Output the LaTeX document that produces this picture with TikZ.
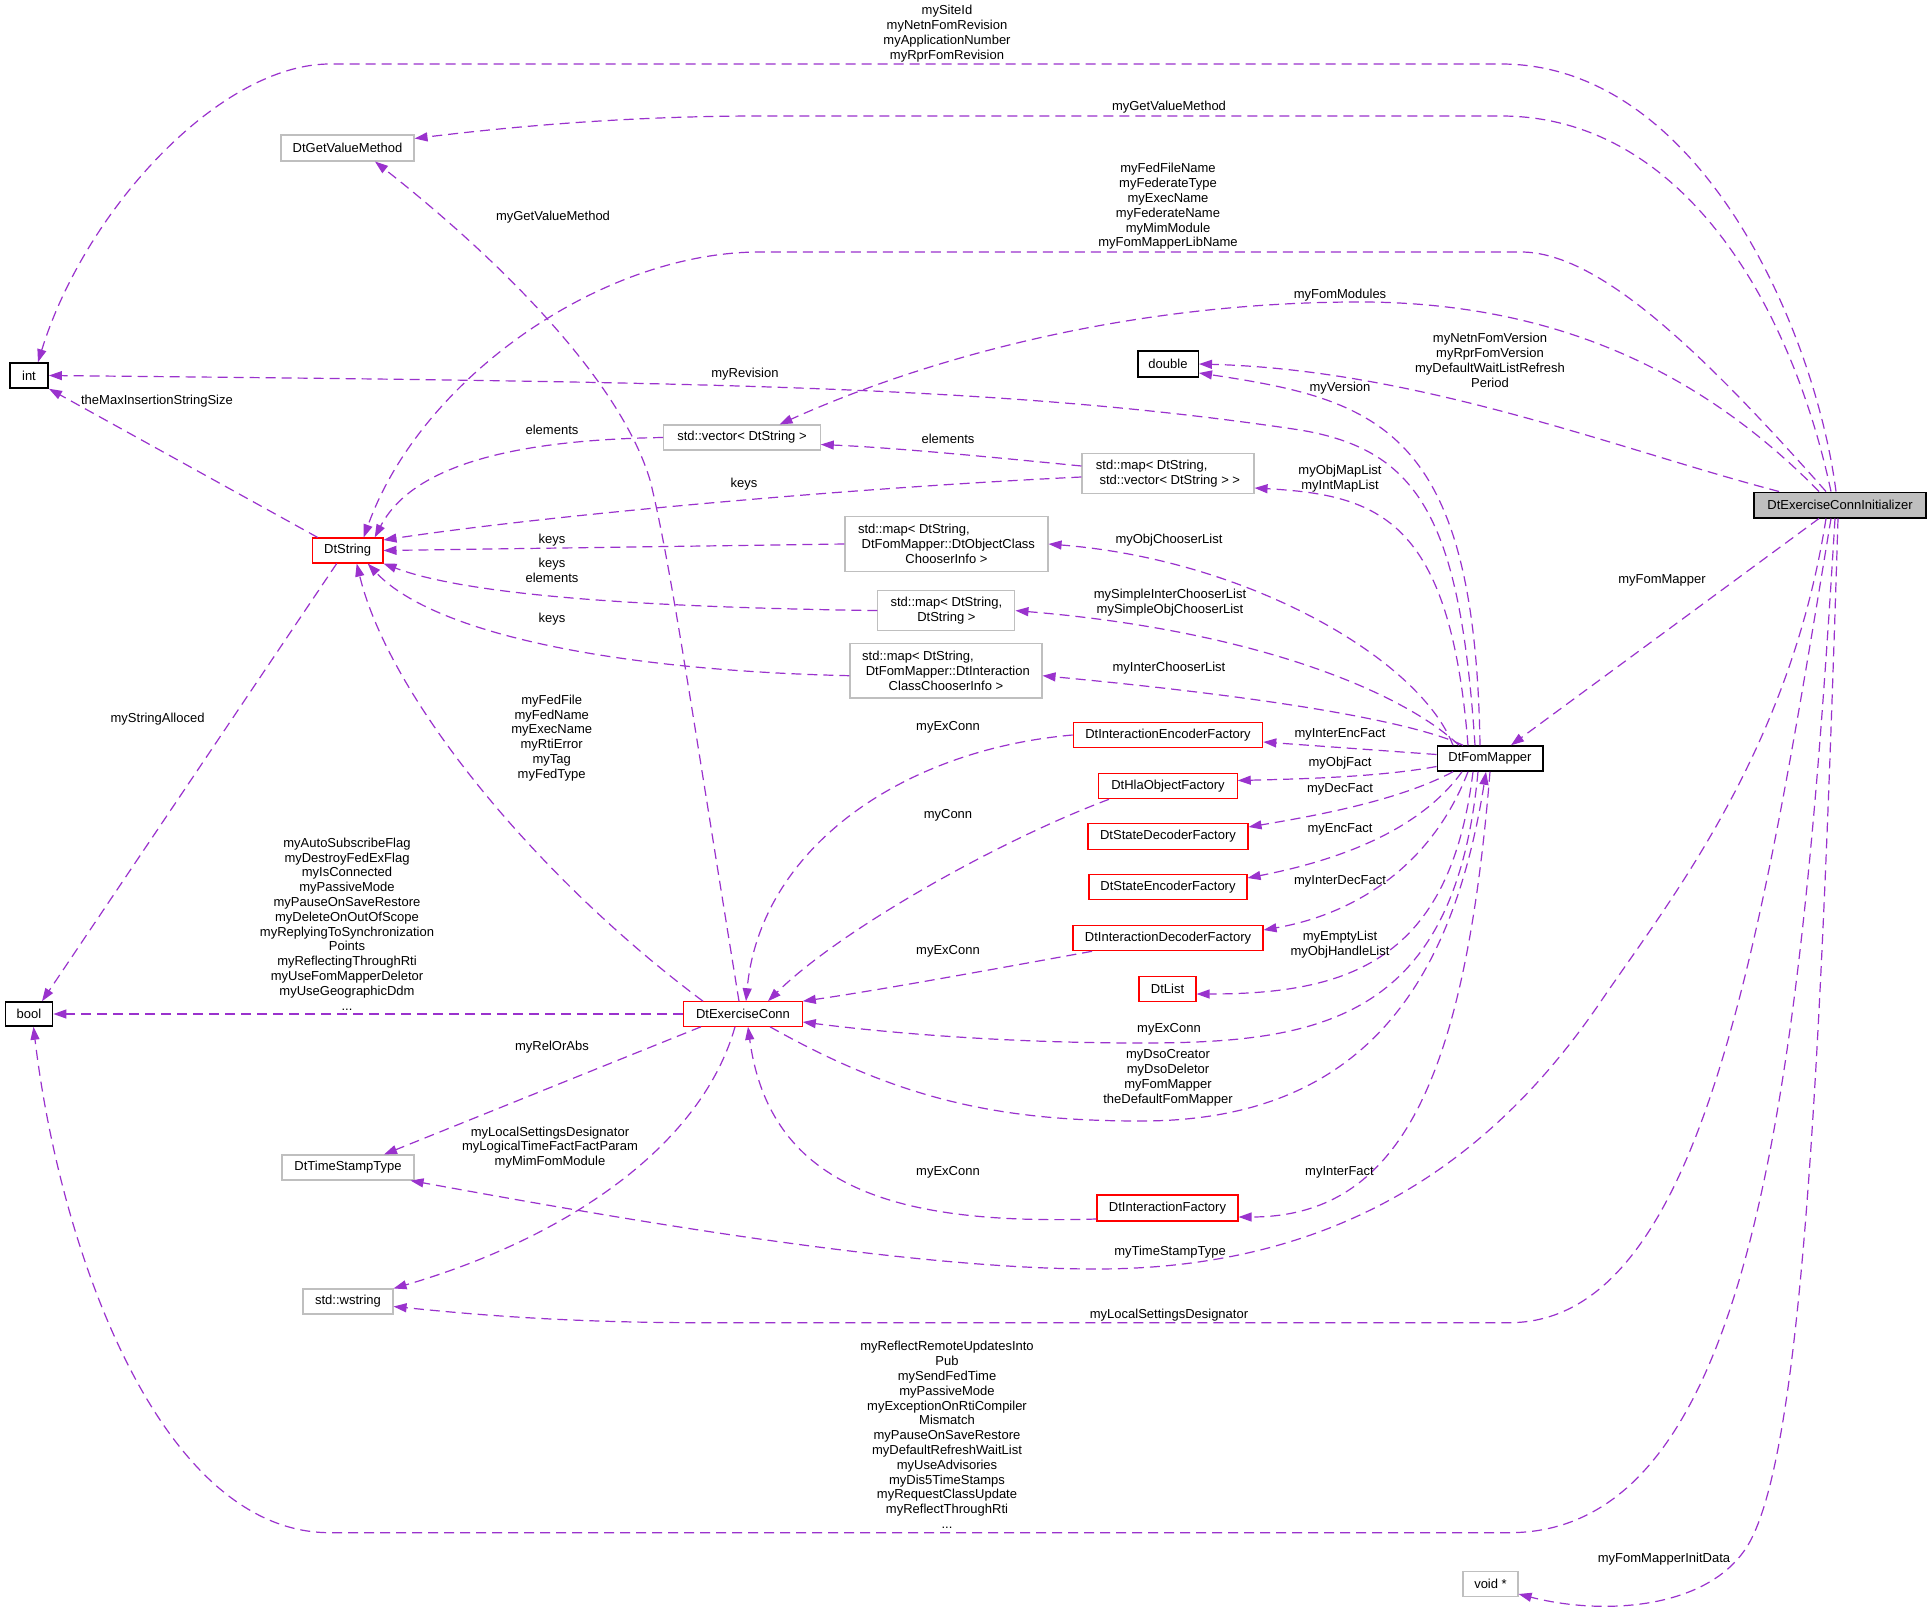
\documentclass[tikz,border=0pt]{standalone}
\usepackage{fontspec}
\usepackage{calc}
\setmainfont{Liberation Sans}
\usetikzlibrary{arrows.meta}
\definecolor{edgec}{HTML}{9A32CD}
\definecolor{grayb}{HTML}{BFBFBF}
\newcommand{\ljline}[2]{\makebox[\widthof{#1}][l]{#2}}
\begin{document}
\begin{tikzpicture}[x=1pt,y=-1pt,
  nbox/.style={draw, rectangle, inner sep=0pt, font=\fontsize{13}{14.8}\selectfont, align=center, line width=1.1pt},
  graybox/.style={nbox, draw=grayb},
  redbox/.style={nbox, draw=red},
  blackbox/.style={nbox, draw=black, line width=1.5pt},
  lbl/.style={inner sep=0pt, font=\fontsize{13}{14.8}\selectfont, align=center},
  coll/.style={draw=edgec, line width=1.2pt, dash pattern=on 10pt off 6pt, -{Triangle[length=13pt,width=9pt]}}
]
\fill[white] (0,0) rectangle (1931,1611);
\useasboundingbox (0,0) rectangle (1931,1611);

% ---------- nodes ----------
\node[graybox, minimum width=133pt, minimum height=26pt] (gvm) at (347.5,148) {DtGetValueMethod};
\node[blackbox, minimum width=38.4pt, minimum height=25pt] (int) at (29,375.5) {int};
\node[redbox, minimum width=70.5pt, minimum height=25pt] (ds) at (347.7,550.5) {DtString};
\node[blackbox, minimum width=47.3pt, minimum height=24pt] (bool) at (29,1014) {bool};
\node[graybox, minimum width=132pt, minimum height=25pt] (tst) at (348,1167.5) {DtTimeStampType};
\node[graybox, minimum width=90pt, minimum height=25pt] (wstr) at (348,1301.5) {std::wstring};
\node[graybox, minimum width=156.5pt, minimum height=25pt] (vec) at (742,437.5) {std::vector< DtString >};
\node[blackbox, minimum width=60.5pt, minimum height=26pt] (dbl) at (1168,364) {double};
\node[graybox, minimum width=172pt, minimum height=40pt] (mapvec) at (1168,473.6)
  {\ljline{\ std::vector< DtString > >}{std::map< DtString,}\\\mbox{\ std::vector< DtString > >}};
\node[graybox, minimum width=203pt, minimum height=54.5pt] (mapobj) at (946.5,544)
  {\ljline{\ DtFomMapper::DtObjectClass}{std::map< DtString,}\\\mbox{\ DtFomMapper::DtObjectClass}\\ChooserInfo >};
\node[graybox, minimum width=137pt, minimum height=40pt] (mapstr) at (946.4,610.6) {std::map< DtString,\\DtString >};
\node[graybox, minimum width=192pt, minimum height=54.5pt] (mapint) at (946,670.7)
  {\ljline{\ DtFomMapper::DtInteraction}{std::map< DtString,}\\\mbox{\ DtFomMapper::DtInteraction}\\ClassChooserInfo >};
\node[redbox, minimum width=189.5pt, minimum height=25.5pt] (dief) at (1168,735) {DtInteractionEncoderFactory};
\node[redbox, minimum width=138.4pt, minimum height=25.5pt] (dhof) at (1168,786) {DtHlaObjectFactory};
\node[redbox, minimum width=160pt, minimum height=25.5pt] (dsdf) at (1168,836.5) {DtStateDecoderFactory};
\node[redbox, minimum width=158pt, minimum height=25.5pt] (dsef) at (1168,887) {DtStateEncoderFactory};
\node[redbox, minimum width=190pt, minimum height=25.5pt] (didf) at (1168,938) {DtInteractionDecoderFactory};
\node[redbox, minimum width=57pt, minimum height=25.5pt] (dtl) at (1167.5,989) {DtList};
\node[redbox, minimum width=118.5pt, minimum height=24.5pt] (ec) at (743,1014) {DtExerciseConn};
\node[redbox, minimum width=141pt, minimum height=26pt] (dif) at (1167.5,1208) {DtInteractionFactory};
\node[blackbox, minimum width=105.5pt, minimum height=25pt] (fm) at (1490,758.5) {DtFomMapper};
\node[blackbox, fill=grayb, minimum width=172pt, minimum height=25.5pt] (eci) at (1840,505) {DtExerciseConnInitializer};
\node[graybox, minimum width=55pt, minimum height=25.6pt] (void) at (1490.5,1584) {void *};

% ---------- edges from DtExerciseConnInitializer ----------
\draw[coll] ([xshift=-4]eci.north) .. controls (1815,330) and (1700,64) .. (1501,64) -- (330,64) .. controls (220,64) and (85,210) .. ([xshift=9]int.north);
\draw[coll] ([xshift=-9]eci.north) .. controls (1790,300) and (1680,116) .. (1501,116) -- (760,116) .. controls (620,116) and (500,128) .. ([yshift=9.5]gvm.east);
\draw[coll] ([xshift=-14]eci.north) .. controls (1705,355) and (1600,252) .. (1521,252) -- (760,252) .. controls (600,252) and (420,380) .. ([xshift=16]ds.north);
\draw[coll] ([xshift=-21]eci.north) .. controls (1700,370) and (1550,300) .. (1350,302) .. controls (1100,304) and (900,370) .. ([xshift=37.5]vec.north);
\draw[coll] ([xshift=-61]eci.north) .. controls (1620,450) and (1420,370) .. (dbl.east);
\draw[coll] ([xshift=-21]eci.south) -- ([xshift=21]fm.north);
\draw[coll] ([xshift=-14]eci.south) .. controls (1790,750) and (1670,900) .. (1601.8,1000) .. controls (1500,1150) and (1350,1269) .. (1096,1269) .. controls (900,1269) and (600,1215) .. ([xshift=-4]tst.south east);
\draw[coll] ([xshift=-9]eci.south) .. controls (1760,950) and (1700,1322.7) .. (1509,1322.7) -- (700,1322.7) .. controls (550,1322.7) and (450,1312) .. ([yshift=-5]wstr.east);
\draw[coll] ([xshift=-5]eci.south) .. controls (1800,1100) and (1750,1532.7) .. (1509,1532.7) -- (330,1532.7) .. controls (160,1532.7) and (60,1250) .. ([xshift=4.5]bool.south);
\draw[coll] ([xshift=-2]eci.south) .. controls (1820,1100) and (1800,1480) .. (1742.6,1553) .. controls (1700,1610) and (1600,1615) .. ([yshift=-10]void.east);

% ---------- edges from DtExerciseConn ----------
\draw[coll] ([xshift=-4]ec.north) .. controls (690,700) and (670,560) .. (650,480) .. controls (620,380) and (500,260) .. ([xshift=27.5]gvm.south);
\draw[coll] ([xshift=-40]ec.north) .. controls (540,880) and (390,700) .. ([xshift=9]ds.south);
\draw[coll] (ec.west) -- (bool.east);
\draw[coll] ([xshift=-42]ec.south) -- ([xshift=36]tst.north);
\draw[coll] ([xshift=-8]ec.south) .. controls (700,1150) and (560,1240) .. (wstr.north east);
\draw[coll] ([xshift=27]ec.south) .. controls (900,1100) and (1000,1121) .. (1141,1121) .. controls (1350,1121) and (1450,1000) .. ([xshift=-4]fm.south);

% ---------- edges into DtExerciseConn ----------
\draw[coll] ([xshift=-12]fm.south) .. controls (1455,1020) and (1320,1043) .. (1141,1043) .. controls (1000,1043) and (880,1032) .. ([yshift=-8]ec.east);
\draw[coll] ([yshift=-11]dif.west) .. controls (900,1225) and (770,1190) .. ([xshift=5]ec.south);
\draw[coll] (dief.west) .. controls (900,750) and (760,850) .. ([xshift=3]ec.north);
\draw[coll] ([xshift=-59]dhof.south) .. controls (1000,840) and (840,930) .. ([xshift=25]ec.north);
\draw[coll] ([xshift=-76]didf.south) .. controls (1000,968) and (880,990) .. (ec.north east);

% ---------- edges from DtFomMapper ----------
\draw[coll] (fm.south) .. controls (1465,1080) and (1400,1217) .. ([yshift=-9]dif.east);
\draw[coll] ([xshift=-15]fm.north) .. controls (1460,520) and (1420,450) .. (1300,430) .. controls (1000,385) and (700,382) .. (int.east);
\draw[coll] ([xshift=-10]fm.north) .. controls (1475,430) and (1380,400) .. ([yshift=-9]dbl.east);
\draw[coll] ([xshift=-22]fm.north) .. controls (1450,520) and (1380,495) .. ([yshift=-14.4]mapvec.east);
\draw[coll] ([xshift=-37]fm.north) .. controls (1420,660) and (1250,560) .. (mapobj.east);
\draw[coll] ([xshift=-31]fm.north) .. controls (1400,690) and (1250,630) .. (mapstr.east);
\draw[coll] ([xshift=-27]fm.north) .. controls (1420,725) and (1300,700) .. ([yshift=-5]mapint.east);
\draw[coll] ([yshift=4]fm.west) -- ([yshift=-7]dief.east);
\draw[coll] ([yshift=-8]fm.west) .. controls (1380,777) and (1300,779) .. ([yshift=5.5]dhof.east);
\draw[coll] ([xshift=-37]fm.south) .. controls (1400,800) and (1320,815) .. ([yshift=9.5]dsdf.east);
\draw[coll] ([xshift=-28]fm.south) .. controls (1420,830) and (1340,860) .. ([yshift=9]dsef.east);
\draw[coll] ([xshift=-22]fm.south) .. controls (1430,870) and (1350,915) .. ([yshift=8]didf.east);
\draw[coll] ([xshift=-17]fm.south) .. controls (1450,960) and (1350,994) .. ([yshift=-5]dtl.east);

% ---------- container edges ----------
\draw[coll] ([yshift=7.6]mapvec.west) .. controls (1000,458) and (900,448) .. ([yshift=-7]vec.east);
\draw[coll] ([yshift=-3.4]mapvec.west) .. controls (850,488) and (550,515) .. ([yshift=10.5]ds.east);
\draw[coll] (mapobj.west) -- (ds.east);
\draw[coll] (mapstr.west) .. controls (700,608) and (480,600) .. (ds.south east);
\draw[coll] ([yshift=-5]mapint.west) .. controls (600,670) and (430,630) .. ([xshift=20]ds.south);
\draw[coll] (vec.west) .. controls (500,440) and (410,470) .. ([xshift=27]ds.north);
\draw[coll] ([xshift=-30]ds.north) -- (int.south east);
\draw[coll] ([xshift=-11]ds.south) -- ([xshift=13]bool.north);

% ---------- labels ----------
\node[lbl] (l1) at (947,33.5) {mySiteId\\myNetnFomRevision\\myApplicationNumber\\myRprFomRevision};
\node[lbl] (l2) at (1169,107.5) {myGetValueMethod};
\node[lbl] (l3) at (1168,206.5) {myFedFileName\\myFederateType\\myExecName\\myFederateName\\myMimModule\\myFomMapperLibName};
\node[lbl] (l4) at (1340,295) {myFomModules};
\node[lbl] (l5) at (1490,360.5) {myNetnFomVersion\\myRprFomVersion\\myDefaultWaitListRefresh\\Period};
\node[lbl] (l6) at (1340,388) {myVersion};
\node[lbl] (l7) at (745,374) {myRevision};
\node[lbl] (l8) at (157,401) {theMaxInsertionStringSize};
\node[lbl] (l9) at (553,217) {myGetValueMethod};
\node[lbl] (l10) at (552,430) {elements};
\node[lbl] (l11) at (948,438.6) {elements};
\node[lbl] (l12) at (744,484.5) {keys};
\node[lbl] (l13) at (1340,479) {myObjMapList\\myIntMapList};
\node[lbl] (l14) at (552,540) {keys};
\node[lbl] (l15) at (1169,540) {myObjChooserList};
\node[lbl] (l16) at (552,570) {keys\\elements};
\node[lbl] (l17) at (1170,603) {mySimpleInterChooserList\\mySimpleObjChooserList};
\node[lbl] (l18) at (552,619) {keys};
\node[lbl] (l19) at (1169,668.6) {myInterChooserList};
\node[lbl] (l20) at (157.6,719) {myStringAlloced};
\node[lbl] (l21) at (551.7,738) {myFedFile\\myFedName\\myExecName\\myRtiError\\myTag\\myFedType};
\node[lbl] (l22) at (948,727) {myExConn};
\node[lbl] (l23) at (1340,734.7) {myInterEncFact};
\node[lbl] (l24) at (1340,762.8) {myObjFact};
\node[lbl] (l25) at (1340,789) {myDecFact};
\node[lbl] (l26) at (948,815.5) {myConn};
\node[lbl] (l27) at (1340,829) {myEncFact};
\node[lbl] (l28) at (1340,881) {myInterDecFact};
\node[lbl] (l29) at (1340,944.7) {myEmptyList\\myObjHandleList};
\node[lbl] (l30) at (948,951.5) {myExConn};
\node[lbl] (l31) at (347,924) {myAutoSubscribeFlag\\myDestroyFedExFlag\\myIsConnected\\myPassiveMode\\myPauseOnSaveRestore\\myDeleteOnOutOfScope\\myReplyingToSynchronization\\Points\\myReflectingThroughRti\\myUseFomMapperDeletor\\myUseGeographicDdm\\...};
\node[lbl] (l32) at (1169,1029) {myExConn};
\node[lbl] (l33) at (552,1046.7) {myRelOrAbs};
\node[lbl] (l34) at (1168,1077.8) {myDsoCreator\\myDsoDeletor\\myFomMapper\\theDefaultFomMapper};
\node[lbl] (l35) at (550,1147.6) {myLocalSettingsDesignator\\myLogicalTimeFactFactParam\\myMimFomModule};
\node[lbl] (l36) at (948,1172) {myExConn};
\node[lbl] (l37) at (1339.5,1172) {myInterFact};
\node[lbl] (l38) at (1170,1252.5) {myTimeStampType};
\node[lbl] (l39) at (1169,1315) {myLocalSettingsDesignator};
\node[lbl] (l40) at (947,1435) {myReflectRemoteUpdatesInto\\Pub\\mySendFedTime\\myPassiveMode\\myExceptionOnRtiCompiler\\Mismatch\\myPauseOnSaveRestore\\myDefaultRefreshWaitList\\myUseAdvisories\\myDis5TimeStamps\\myRequestClassUpdate\\myReflectThroughRti\\...};
\node[lbl] (l41) at (1662,580) {myFomMapper};
\node[lbl] (l42) at (1664,1559) {myFomMapperInitData};
\end{tikzpicture}
\end{document}
